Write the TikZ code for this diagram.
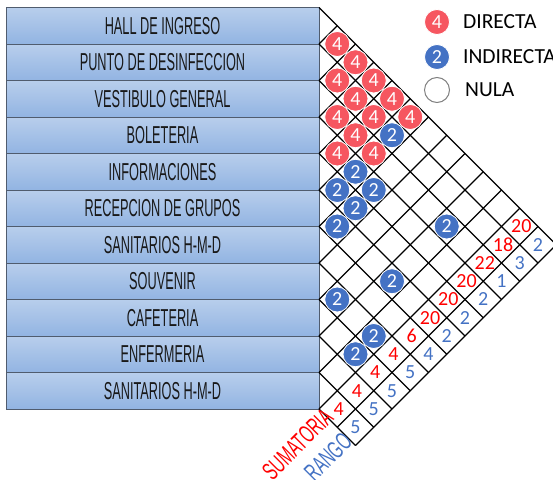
\documentclass[tikz,border=0pt]{standalone}
\usepackage{fontspec}
\usepackage{graphicx}
\setmainfont{Carlito}
\newfontfamily\labelfont{Liberation Sans}
\usepackage{tikz}
\usetikzlibrary{positioning}
\definecolor{boxTop}{RGB}{184,206,236}
\definecolor{boxBottom}{RGB}{146,180,226}
\definecolor{boxEdge}{RGB}{80,92,110}
\definecolor{directRed}{RGB}{246,86,96}
\definecolor{indirectBlue}{RGB}{68,114,196}
\definecolor{nullGrey}{RGB}{128,128,128}
\definecolor{sumRed}{RGB}{255,0,0}
\newcommand{\rowlabel}[1]{\scalebox{0.52}[1]{#1}}
\newcommand{\xo}{319}
\newcommand{\yo}{7.5}
\newcommand{\hw}{18.25}
\newcommand{\hh}{18.25}

\begin{document}
\begin{tikzpicture}[x=1pt, y=-1pt,
  rowbox/.style={draw=boxEdge, line width=1pt, top color=boxTop, bottom color=boxBottom,
    minimum width=313pt, minimum height=36.5pt, inner sep=0pt, text=black!90,
    font=\labelfont\fontsize{24.5}{26}\selectfont},
  gridline/.style={black, line width=1.2pt},
  dot/.style={circle, minimum size=25pt, inner sep=0pt, draw=white, line width=0.8pt,
    text=white, font=\fontsize{20}{22}\selectfont},
  directdot/.style={dot, fill=directRed},
  indirectdot/.style={dot, fill=indirectBlue},
  nulldot/.style={dot, fill=white, draw=nullGrey, line width=1pt},
  sumtext/.style={text=sumRed, font=\fontsize{20}{22}\selectfont, inner sep=0pt},
  rangotext/.style={text=indirectBlue, font=\fontsize{20}{22}\selectfont, inner sep=0pt},
  legendtext/.style={anchor=west, inner sep=0pt, font=\fontsize{21.5}{23}\selectfont},
  axistitle/.style={rotate=45, inner sep=0pt, font=\labelfont\fontsize{25}{26}\selectfont}]
\useasboundingbox (0,0) rectangle (553,479);

% Spaces
\foreach \i/\name in {0/HALL DE INGRESO, 1/PUNTO DE DESINFECCION, 2/VESTIBULO GENERAL,
    3/BOLETERIA, 4/INFORMACIONES, 5/RECEPCION DE GRUPOS, 6/SANITARIOS H-M-D,
    7/SOUVENIR, 8/CAFETERIA, 9/ENFERMERIA, 10/SANITARIOS H-M-D} {
  \node[rowbox] (space\i) at (162.5,{\yo+(2*\i+1)*\hh}) {\rowlabel{\name}};
}

% Matrix grid
\foreach \k in {0,...,11}
  \draw[gridline] (\xo,{\yo+2*\k*\hh}) -- ({\xo+(13-\k)*\hw},{\yo+(13+\k)*\hh});
\foreach \m in {1,...,13} {
  \pgfmathtruncatemacro\kmax{min(\m,11)}
  \draw[gridline] ({\xo+\m*\hw},{\yo+\m*\hh}) -- ({\xo+(\m-\kmax)*\hw},{\yo+(\m+\kmax)*\hh});
}

% Direct relations
\foreach \i/\j in {0/1, 0/2, 1/2, 0/3, 1/3, 0/4, 2/3, 1/4, 0/5, 2/4, 3/4, 2/5}
  \node[directdot] (rel\i-\j) at ({\xo+(\j-\i)*\hw},{\yo+(\i+\j+1)*\hh}) {4};

% Indirect relations
\foreach \i/\j in {1/5, 3/5, 4/5, 3/6, 4/6, 5/6, 2/9, 5/9, 7/8, 7/10, 8/10}
  \node[indirectdot] (rel\i-\j) at ({\xo+(\j-\i)*\hw},{\yo+(\i+\j+1)*\hh}) {2};

% Sumatoria / rango
\foreach \i/\s/\r in {0/20/2, 1/18/3, 2/22/1, 3/20/2, 4/20/2, 5/20/2,
    6/6/4, 7/4/5, 8/4/5, 9/4/5, 10/4/5} {
  \node[sumtext] (sum\i) at ({\xo+(11-\i)*\hw+1.5},{\yo+(\i+12)*\hh}) {\s};
  \node[rangotext] (rango\i) at ({\xo+(12-\i)*\hw},{\yo+(\i+13)*\hh}) {\r};
}
\node[axistitle, text=sumRed] (sumtitle) at (297.5,444) {\scalebox{0.6}[1]{SUMATORIA}};
\node[axistitle, text=indirectBlue] (rangotitle) at (328,457) {\scalebox{0.6}[1]{RANGO}};

% Legend
\node[directdot] (keydirect) at (437,22) {4};
\node[legendtext, right=13pt of keydirect] (keydirecttext) {DIRECTA};
\node[indirectdot] (keyindirect) at (437,57) {2};
\node[legendtext, right=13pt of keyindirect] (keyindirecttext) {INDIRECTA};
\node[nulldot] (keynull) at (437,90) {};
\node[legendtext, right=15pt of keynull] (keynulltext) {NULA};
\end{tikzpicture}
\end{document}
